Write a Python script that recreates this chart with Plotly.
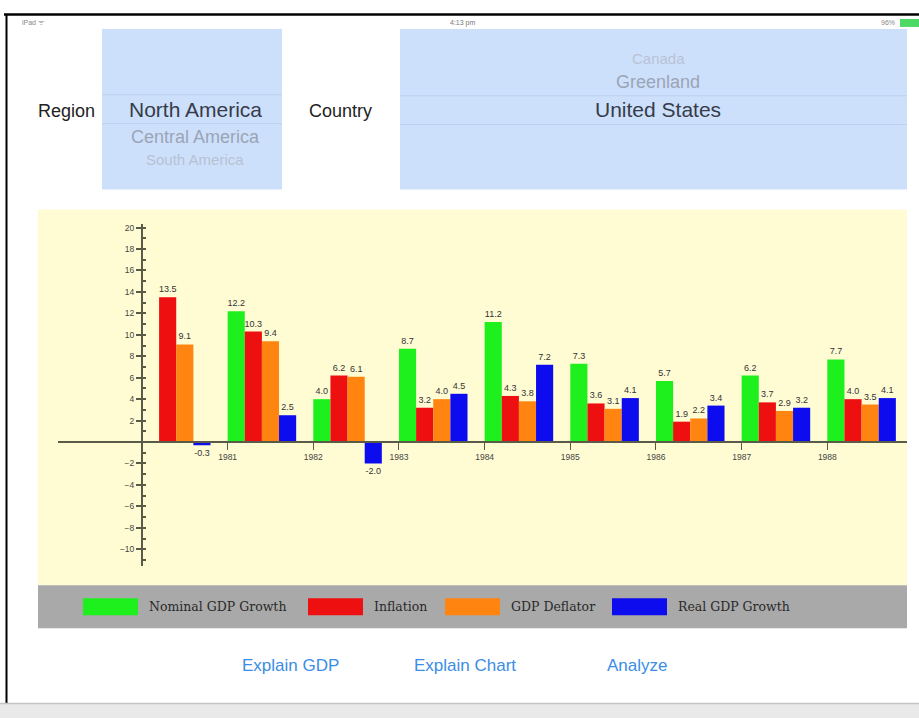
import plotly.graph_objects as go

W, H = 919, 718

# ---------------- data ----------------
years = [1980, 1981, 1982, 1983, 1984, 1985, 1986, 1987, 1988]
nominal_gdp = [None, 12.2, 4.0, 8.7, 11.2, 7.3, 5.7, 6.2, 7.7]
inflation = [13.5, 10.3, 6.2, 3.2, 4.3, 3.6, 1.9, 3.7, 4.0]
gdp_deflator = [9.1, 9.4, 6.1, 4.0, 3.8, 3.1, 2.2, 2.9, 3.5]
real_gdp = [-0.3, 2.5, -2.0, 4.5, 7.2, 4.1, 3.4, 3.2, 4.1]

series_names = ["Nominal GDP Growth", "Inflation", "GDP Deflator", "Real GDP Growth"]
series_values = [nominal_gdp, inflation, gdp_deflator, real_gdp]
series_colors = ["#1ef01e", "#ee1010", "#ff8410", "#0c0cee"]

x_tick_years = [1981, 1982, 1983, 1984, 1985, 1986, 1987, 1988]
y_tick_values = [-10, -8, -6, -4, -2, 2, 4, 6, 8, 10, 12, 14, 16, 18, 20]

region_items = ["North America", "Central America", "South America"]
country_items = ["Canada", "Greenland", "United States"]
buttons = ["Explain GDP", "Explain Chart", "Analyze"]

# ---------------- helpers ----------------
def px(x):
    return x / W

def py(y):
    return 1 - y / H

shapes = []
annotations = []

def rect(x0, y0, x1, y1, color, layer="below"):
    shapes.append(dict(type="rect", xref="paper", yref="paper",
                       x0=px(x0), x1=px(x1), y0=py(y1), y1=py(y0),
                       fillcolor=color, line_width=0, layer=layer))

def hline(x0, x1, y, color, width=1):
    shapes.append(dict(type="line", xref="paper", yref="paper",
                       x0=px(x0), x1=px(x1), y0=py(y), y1=py(y),
                       line=dict(color=color, width=width), layer="below"))

def vline(x, y0, y1, color, width=1):
    shapes.append(dict(type="line", xref="paper", yref="paper",
                       x0=px(x), x1=px(x), y0=py(y0), y1=py(y1),
                       line=dict(color=color, width=width), layer="below"))

def text(x, y, s, size, color, family="Liberation Sans", xanchor="center"):
    annotations.append(dict(x=px(x), y=py(y), xref="paper", yref="paper",
                            text=s, showarrow=False, xanchor=xanchor, yanchor="middle",
                            font=dict(size=size, color=color, family=family)))

# ---------------- figure ----------------
fig = go.Figure()
for i, (name, vals, col) in enumerate(zip(series_names, series_values, series_colors)):
    fig.add_trace(go.Bar(
        x=years, y=vals, name=name,
        offset=0.2 * i, width=0.2,
        marker=dict(color=col, line=dict(width=0)),
        text=[None if v is None else f"{v:.1f}" for v in vals],
        textposition="outside", constraintext="none", cliponaxis=False,
        textfont=dict(size=9, color="#333333", family="Liberation Sans"),
        showlegend=False,
    ))

axis_col = "#5a5a48"

# background panels
rect(38, 208, 907, 585, "#fffcd3")            # chart area
rect(38, 585, 907, 628, "#a9a9a9")            # legend bar
rect(102, 27, 282, 188, "#cde0fb")            # region picker
rect(400, 27, 907, 188, "#cde0fb")            # country picker
hline(102, 282, 93, "#bcd0ee")
hline(102, 282, 122, "#bcd0ee")
hline(400, 907, 94, "#bcd0ee")
hline(400, 907, 123, "#bcd0ee")

# device frame
hline(4, 919, 12.5, "#000000", 2.5)
vline(6.5, 12, 704, "#000000", 2)
rect(0, 704, 919, 718, "#e9e9e9")
hline(0, 919, 703.5, "#c4c4c4", 1.5)

# status bar
text(20, 21, "iPad ᯤ", 7, "#888888", xanchor="left")
text(462, 21, "4:13 pm", 7, "#777777")
text(897, 21, "96%", 7, "#888888", xanchor="right")
rect(900, 17, 919, 25, "#4cd964", layer="above")

# pickers
text(66, 109, "Region", 18, "#222222")
text(195, 108, region_items[0], 21, "#363c4a")
text(195, 135, region_items[1], 18, "#9ba4b6")
text(195, 158, region_items[2], 15, "#b7c0d2")
text(340, 109, "Country", 18, "#222222")
text(658, 57, country_items[0], 15, "#b9c2d4")
text(658, 80, country_items[1], 18, "#9ba4b6")
text(658, 108, country_items[2], 21, "#363c4a")

# custom legend
legend_x = [83, 308, 445, 612]
for lx, name, col in zip(legend_x, series_names, series_colors):
    rect(lx, 598, lx + 55, 615, col, layer="above")
    text(lx + 64, 606, name, 12.5, "#2a2a2a", family="DejaVu Serif", xanchor="left")

# buttons
for bx, label in zip([290, 465, 637], buttons):
    text(bx, 665, label, 17, "#3b8de6")

fig.update_layout(
    width=W, height=H,
    margin=dict(l=0, r=0, t=0, b=0),
    paper_bgcolor="white", plot_bgcolor="rgba(0,0,0,0)",
    barmode="overlay",
    shapes=shapes, annotations=annotations,
    showlegend=False,
    xaxis=dict(
        domain=[px(58), px(907)], range=[1979.02, 1988.93],
        anchor="free", position=py(441.5),
        tickvals=x_tick_years, ticktext=[str(y) for y in x_tick_years],
        showline=True, linecolor=axis_col, linewidth=2,
        ticks="outside", ticklen=7, tickwidth=1, tickcolor=axis_col,
        tickfont=dict(size=8.5, color="#444444", family="Liberation Sans"),
        showgrid=False, zeroline=False, fixedrange=True,
    ),
    yaxis=dict(
        domain=[py(566), py(223)], range=[-11.6, 20.3],
        anchor="free", position=px(142),
        tickvals=y_tick_values,
        showline=True, linecolor=axis_col, linewidth=2,
        ticks="outside", ticklen=5, tickwidth=1.5, tickcolor=axis_col,
        minor=dict(dtick=1, tick0=0, ticks="inside", ticklen=3, tickcolor=axis_col, showgrid=False),
        tickfont=dict(size=8.5, color="#444444", family="Liberation Sans"),
        showgrid=False, zeroline=False, fixedrange=True,
    ),
)

fig.write_html("out.html")
